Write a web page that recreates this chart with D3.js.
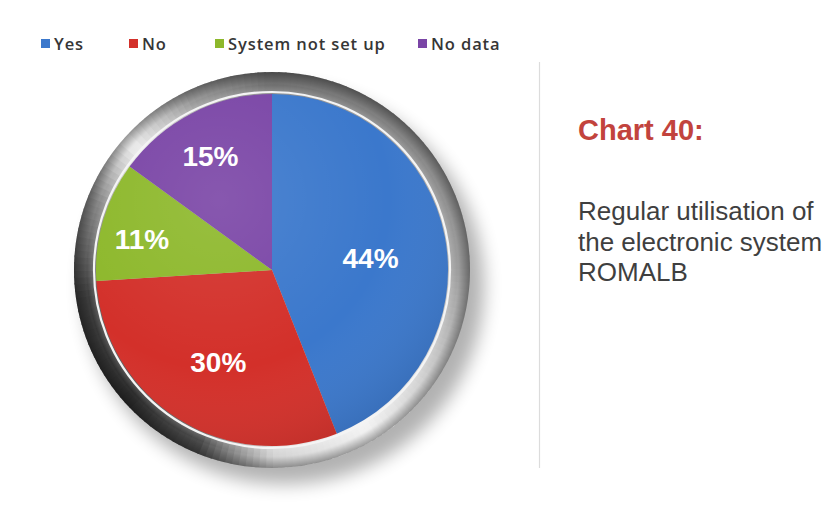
<!DOCTYPE html>
<html><head><meta charset="utf-8">
<script src="https://cdn.jsdelivr.net/npm/d3@7"></script>
<style>html,body{margin:0;padding:0;background:#fff;}svg{display:block;}</style>
</head><body>
<script>
const categories = ["Yes", "No", "System not set up", "No data"];
const values = [44, 30, 11, 15];
const colors = ["#3b78cc", "#d3302a", "#8db82b", "#7a45a6"];
const title = "Chart 40:";
const subtitle = ["Regular utilisation of", "the electronic system", "ROMALB"];

const W = 835, H = 510;
const svg = d3.select("body").append("svg").attr("width", W).attr("height", H);
const defs = svg.append("defs");

const cx = 272, cy = 270, R = 176, Rring = 198;

// shadow
const f = defs.append("filter").attr("id", "sh").attr("x", "-30%").attr("y", "-30%").attr("width", "160%").attr("height", "160%");
f.append("feGaussianBlur").attr("stdDeviation", 9);
svg.append("ellipse").attr("cx", cx + 12).attr("cy", cy + 16).attr("rx", Rring + 2).attr("ry", Rring)
  .attr("fill", "#000").attr("opacity", 0.3).attr("filter", "url(#sh)");

// metallic ring by segments
const ringStops = [[0, "#6e6e6e"], [45, "#858585"], [90, "#9e9e9e"], [125, "#cfcfcf"], [150, "#f2f2f2"], [180, "#d4d4d4"], [203, "#4a4a4a"], [228, "#2c2c2c"], [262, "#3a3a3a"], [292, "#8a8a8a"], [312, "#ececec"], [335, "#9a9a9a"], [360, "#6e6e6e"]];
const ringColor = d3.scaleLinear().domain(ringStops.map(d => d[0])).range(ringStops.map(d => d[1])).interpolate(d3.interpolateRgb);
const segArc = d3.arc().innerRadius(R - 2).outerRadius(Rring);
const gRing = svg.append("g").attr("transform", `translate(${cx},${cy})`);
d3.range(0, 360, 2).forEach(a => {
  gRing.append("path")
    .attr("d", segArc({startAngle: (a - 0.3) * Math.PI / 180, endAngle: (a + 2.3) * Math.PI / 180}))
    .attr("fill", ringColor(a + 1));
});
// ring edge shading
const rg = defs.append("radialGradient").attr("id", "ringShade").attr("gradientUnits", "userSpaceOnUse")
  .attr("cx", 0).attr("cy", 0).attr("r", Rring);
rg.append("stop").attr("offset", (R / Rring)).attr("stop-color", "#fff").attr("stop-opacity", 0.25);
rg.append("stop").attr("offset", ((R + 9) / Rring)).attr("stop-color", "#fff").attr("stop-opacity", 0);
rg.append("stop").attr("offset", 0.95).attr("stop-color", "#000").attr("stop-opacity", 0.05);
rg.append("stop").attr("offset", 1).attr("stop-color", "#000").attr("stop-opacity", 0.35);
gRing.append("circle").attr("r", Rring).attr("fill", "url(#ringShade)");
gRing.append("circle").attr("r", R + 2).attr("fill", "none").attr("stroke", "#f4f4f4").attr("stroke-width", 2.2);

// pie
const pie = d3.pie().sort(null).value(d => d.v);
const data = pie(categories.map((c, i) => ({c, v: values[i], col: colors[i]})));
const arc = d3.arc().innerRadius(0).outerRadius(R);
const gPie = svg.append("g").attr("transform", `translate(${cx},${cy})`);
gPie.selectAll("path.slice").data(data).join("path").attr("class", "slice")
  .attr("d", arc).attr("fill", d => d.data.col);
// pie shading overlay
const pg = defs.append("radialGradient").attr("id", "pieShade").attr("cx", "35%").attr("cy", "30%").attr("r", "80%");
pg.append("stop").attr("offset", 0).attr("stop-color", "#fff").attr("stop-opacity", 0.10);
pg.append("stop").attr("offset", 0.6).attr("stop-color", "#fff").attr("stop-opacity", 0);
pg.append("stop").attr("offset", 1).attr("stop-color", "#000").attr("stop-opacity", 0.12);
gPie.append("circle").attr("r", R).attr("fill", "url(#pieShade)");

// labels
gPie.selectAll("text.lbl").data(data).join("text").attr("class", "lbl")
  .each(function(d) {
    const small = (d.endAngle - d.startAngle) < 1.2;
    const rr = small ? R * 0.77 : R * 0.57;
    const c = d3.arc().innerRadius(rr).outerRadius(rr).centroid(d);
    d3.select(this).attr("x", c[0]).attr("y", c[1] + 7);
  })
  .attr("text-anchor", "middle").attr("dy", "0.36em")
  .attr("font-family", "Liberation Sans, Arial, sans-serif").attr("font-weight", "bold")
  .attr("font-size", 28).attr("fill", "#fff")
  .text(d => d.data.v + "%");

// legend
const legX = [41, 129, 215, 418];
const gLeg = svg.append("g");
categories.forEach((c, i) => {
  gLeg.append("rect").attr("x", legX[i]).attr("y", 39).attr("width", 9).attr("height", 9).attr("fill", colors[i]);
  gLeg.append("text").attr("x", legX[i] + 13).attr("y", 49.5).text(c)
    .attr("font-family", "Open Sans, sans-serif").attr("font-weight", 600).attr("font-size", 16.5)
    .attr("letter-spacing", 0.9).attr("fill", "#363636");
});

// separator
svg.append("line").attr("x1", 539.5).attr("x2", 539.5).attr("y1", 62).attr("y2", 468)
  .attr("stroke", "#dcdcdc").attr("stroke-width", 1.2);

// title and description
svg.append("text").attr("x", 578).attr("y", 140).text(title)
  .attr("font-family", "Liberation Sans, Arial, sans-serif").attr("font-weight", "bold")
  .attr("font-size", 29).attr("fill", "#c2433d");
svg.append("g").selectAll("text").data(subtitle).join("text")
  .attr("x", 578).attr("y", (d, i) => 220 + i * 30.5).text(d => d)
  .attr("font-family", "Liberation Sans, Arial, sans-serif").attr("font-size", 26).attr("fill", "#3f3f3f");
</script>
</body></html>
